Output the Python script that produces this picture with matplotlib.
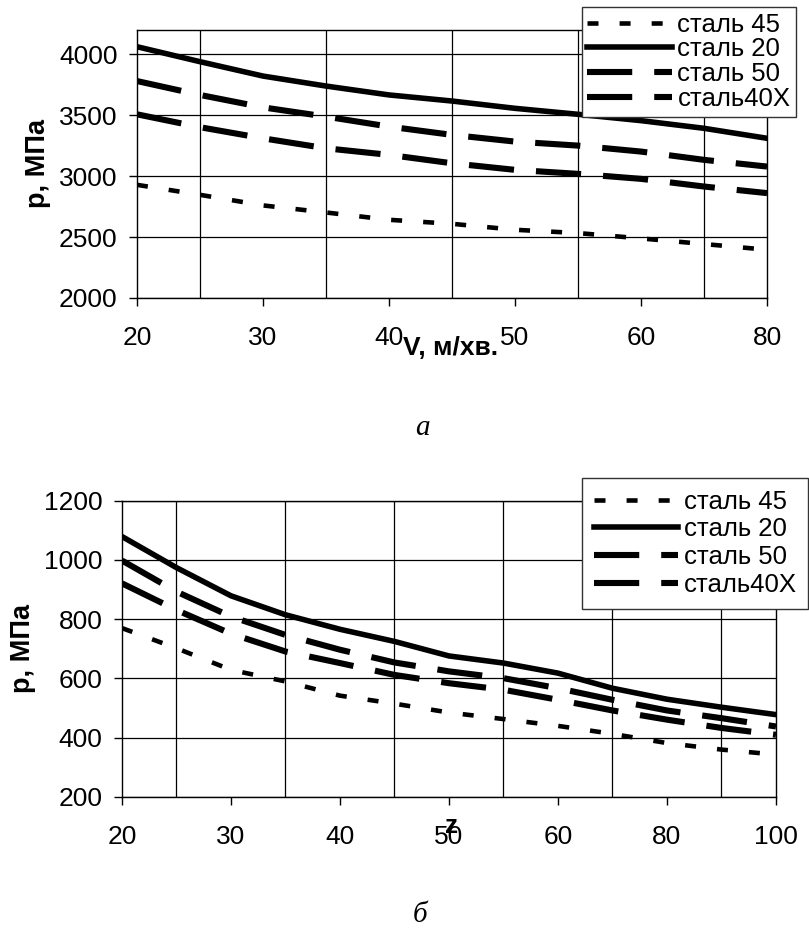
import matplotlib.pyplot as plt
import numpy as np

plt.rcParams['font.family'] = ['Liberation Sans', 'DejaVu Sans']

# panel a: pressure vs cutting speed
v_speed = [20, 25, 30, 35, 40, 45, 50, 55, 60, 70, 80]
p_v_st45 = [2929, 2847, 2760, 2702, 2642, 2609, 2560, 2533, 2489, 2443, 2396]
p_v_st20 = [4063, 3940, 3822, 3740, 3667, 3617, 3557, 3508, 3456, 3393, 3311]
p_v_st50 = [3781, 3667, 3565, 3489, 3407, 3339, 3284, 3251, 3202, 3134, 3079]
p_v_st40x = [3508, 3402, 3311, 3229, 3175, 3106, 3052, 3019, 2978, 2915, 2861]

# panel b: pressure vs number of teeth
z_teeth = [20, 25, 30, 35, 40, 45, 50, 55, 60, 70, 80, 90, 100]
p_z_st45 = [770, 702, 629, 590, 542, 515, 485, 463, 440, 413, 382, 360, 343]
p_z_st20 = [1079, 974, 879, 815, 766, 725, 676, 652, 618, 567, 530, 503, 478]
p_z_st50 = [998, 893, 809, 747, 697, 654, 624, 601, 567, 528, 492, 466, 438]
p_z_st40x = [921, 831, 751, 691, 652, 612, 584, 562, 528, 492, 461, 433, 410]

labels = ['сталь 45', 'сталь 20', 'сталь 50', 'сталь40Х']
styles = [
    dict(lw=3.3, dashes=(2.4, 4.6)),
    dict(lw=4.0),
    dict(lw=4.4, dashes=(7.4, 3.6)),
    dict(lw=4.4, dashes=(7.4, 3.6)),
]


def draw_panel(ax, cats, series, ylim, ystep, leg_anchor, leg_pad, leg_space):
    x = np.arange(len(cats))
    for vals, lab, st in zip(series, labels, styles):
        ax.plot(x, vals, color='black', label=lab, **st)
    ax.set_xlim(0, len(cats) - 1)
    ax.set_ylim(*ylim)
    ax.set_yticks(np.arange(ylim[0], ylim[1] + 1, ystep))
    ax.set_xticks(x[::2])
    ax.set_xticklabels([str(c) for c in cats[::2]])
    ax.set_xticks(x, minor=True)
    ax.tick_params(axis='x', which='minor', length=0)
    ax.tick_params(axis='both', which='major', labelsize=19, length=6,
                   width=1, direction='out', color='black')
    ax.tick_params(axis='x', which='major', pad=14)
    ax.tick_params(axis='y', which='major', pad=8)
    ax.grid(True, which='major', axis='y', color='black', lw=0.9)
    ax.grid(True, which='minor', axis='x', color='black', lw=0.9)
    for sp in ax.spines.values():
        sp.set_color('black')
        sp.set_linewidth(1.0)
    ax.set_ylabel('p, МПа', fontsize=19.5, fontweight='bold', labelpad=6)
    leg = ax.legend(loc='upper right', bbox_to_anchor=leg_anchor,
                    bbox_transform=ax.figure.transFigure, fontsize=18.5,
                    frameon=True, fancybox=False, framealpha=1,
                    edgecolor='#333333', handlelength=3.3, handletextpad=0.2,
                    borderpad=leg_pad, labelspacing=leg_space,
                    borderaxespad=0)
    leg.get_frame().set_linewidth(1.0)
    leg.set_zorder(5)


fig = plt.figure(figsize=(8.09, 9.35), dpi=100)

ax1 = fig.add_axes([0.1693, 0.6813, 0.7788, 0.2866])
draw_panel(ax1, v_speed, [p_v_st45, p_v_st20, p_v_st50, p_v_st40x],
           (2000, 4200), 500, (0.984, 0.9925), 0.22, 0.03)
fig.text(451 / 809, 1 - 348 / 935, 'V, м/хв.', fontsize=19, fontweight='bold',
         ha='center', va='center')
fig.text(422 / 809, 1 - 428 / 935, 'а', fontsize=21, style='italic',
         family='Liberation Serif', ha='center', va='center')

ax2 = fig.add_axes([0.1508, 0.1476, 0.8084, 0.3169])
draw_panel(ax2, z_teeth, [p_z_st45, p_z_st20, p_z_st50, p_z_st40x],
           (200, 1200), 200, (0.999, 0.4888), 0.45, 0.15)
fig.text(452 / 809, 1 - 826 / 935, 'z', fontsize=19, fontweight='bold',
         ha='center', va='center')
fig.text(420 / 809, 1 - 915 / 935, 'б', fontsize=21, style='italic',
         family='Liberation Serif', ha='center', va='center')

fig.savefig('out.png', dpi=100)
